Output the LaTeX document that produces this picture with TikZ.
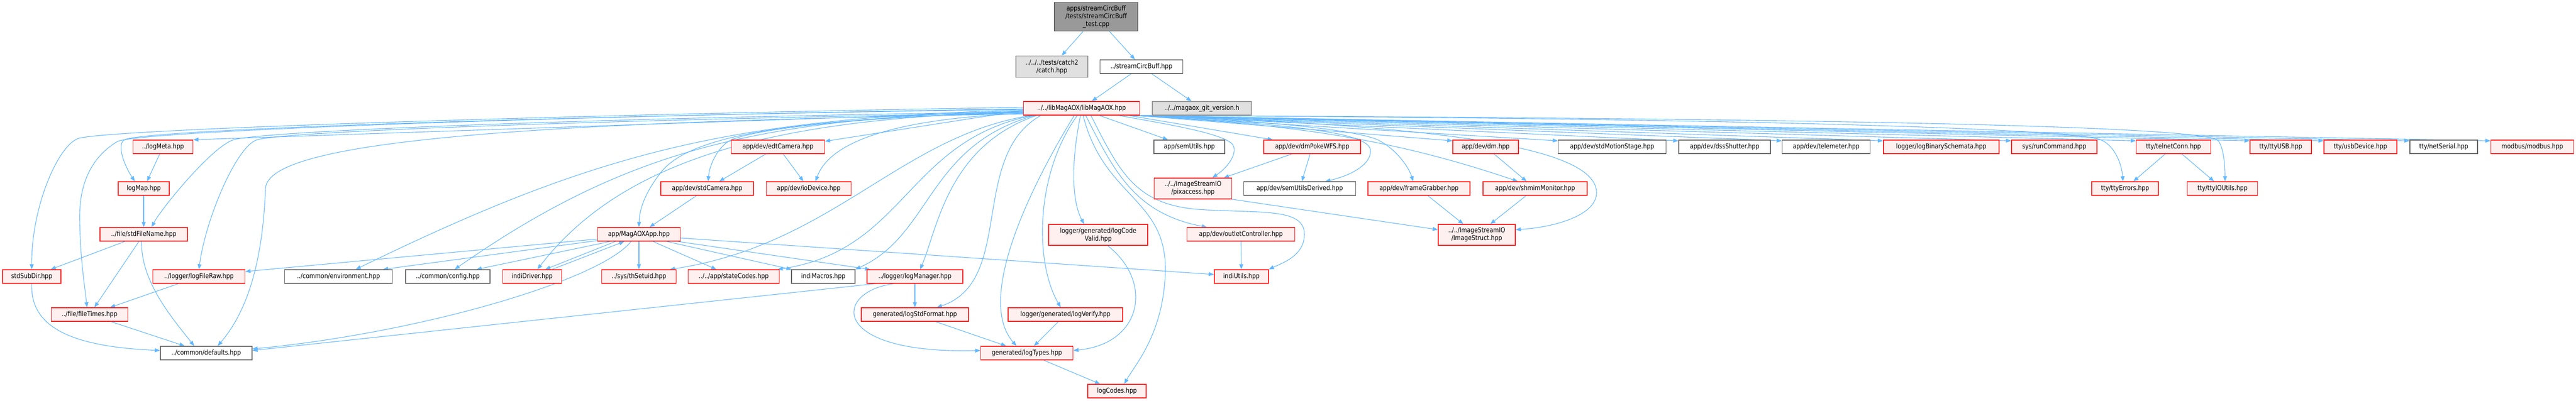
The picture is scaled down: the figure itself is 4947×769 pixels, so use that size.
\documentclass[tikz,border=0pt]{standalone}
\usepackage{fontspec}
\usepackage{xcolor}
\usepackage{tikz}
\usetikzlibrary{arrows.meta,positioning,backgrounds}
\newfontfamily\doxfont[FakeStretch=0.86]{DejaVu Sans}
\definecolor{EdgeBlue}{HTML}{63B8FF}
\definecolor{BoxRed}{HTML}{FF2020}
\definecolor{BoxPink}{HTML}{FFF0F0}
\definecolor{BoxGrey}{HTML}{666666}
\definecolor{BoxLight}{HTML}{E0E0E0}
\definecolor{BoxMid}{HTML}{999999}
\tikzset{
  inc box/.style={rectangle, draw, line width=1.3pt, align=center, inner sep=1pt, minimum height=26, font={\doxfont\fontsize{13}{15}\selectfont}},
  red file/.style={inc box, draw=BoxRed, fill=BoxPink},
  grey file/.style={inc box, draw=BoxGrey, fill=white},
  sys file/.style={inc box, draw=BoxMid, fill=BoxLight},
  src file/.style={inc box, draw=BoxGrey, fill=BoxMid},
  inc edge/.style={draw=EdgeBlue, line width=1.1pt, -{Triangle[length=10pt, width=7.5pt]}}
}

\begin{document}
\begin{tikzpicture}[x=1pt, y=1pt]
\useasboundingbox (0,0) rectangle (4947,-769);

% top of the graph
\node[src file, minimum width=160, minimum height=55] (top) at (2105,-32) {apps/streamCircBuff\\/tests/streamCircBuff\\\_test.cpp};
\node[sys file, minimum width=138, minimum height=41] (catch) at (2020,-128) {../../../tests/catch2\\/catch.hpp};
\node[grey file, minimum width=159] (scb) at (2192,-128) {../streamCircBuff.hpp};
\node[red file, minimum width=223] (lib) at (2077,-208) {../../libMagAOX/libMagAOX.hpp};
\node[sys file, minimum width=190] (git) at (2308,-208) {../../magaox\_git\_version.h};

% row 3
\node[red file, minimum width=115] (logMeta) at (313,-282) {../logMeta.hpp};
\node[red file, minimum width=179] (edtCamera) at (1494,-282) {app/dev/edtCamera.hpp};
\node[grey file, minimum width=136] (semUtils) at (2284,-282) {app/semUtils.hpp};
\node[red file, minimum width=186] (dmPokeWFS) at (2520,-282) {app/dev/dmPokeWFS.hpp};
\node[red file, minimum width=126] (dm) at (2853,-282) {app/dev/dm.hpp};
\node[grey file, minimum width=207] (stdMotionStage) at (3096,-282) {app/dev/stdMotionStage.hpp};
\node[grey file, minimum width=176] (dssShutter) at (3312,-282) {app/dev/dssShutter.hpp};
\node[grey file, minimum width=169] (telemeter) at (3507,-282) {app/dev/telemeter.hpp};
\node[red file, minimum width=222] (logBinSchema) at (3728,-282) {logger/logBinarySchemata.hpp};
\node[red file, minimum width=164] (runCommand) at (3945,-282) {sys/runCommand.hpp};
\node[red file, minimum width=143] (telnetConn) at (4174,-282) {tty/telnetConn.hpp};
\node[red file, minimum width=118] (ttyUSB) at (4380,-282) {tty/ttyUSB.hpp};
\node[red file, minimum width=140] (usbDevice) at (4533,-282) {tty/usbDevice.hpp};
\node[grey file, minimum width=130] (netSerial) at (4693,-282) {tty/netSerial.hpp};
\node[red file, minimum width=159] (modbus) at (4863,-282) {modbus/modbus.hpp};

% row 4
\node[red file, minimum width=98] (logMap) at (276,-362) {logMap.hpp};
\node[red file, minimum width=178] (stdCamera) at (1358,-362) {app/dev/stdCamera.hpp};
\node[red file, minimum width=163] (ioDevice) at (1553,-362) {app/dev/ioDevice.hpp};
\node[red file, minimum width=149, minimum height=40] (pixaccess) at (2291,-362) {../../ImageStreamIO\\/pixaccess.hpp};
\node[grey file, minimum width=215] (semUtilsDer) at (2496,-362) {app/dev/semUtilsDerived.hpp};
\node[red file, minimum width=196] (frameGrabber) at (2725,-362) {app/dev/frameGrabber.hpp};
\node[red file, minimum width=200] (shmimMonitor) at (2948,-362) {app/dev/shmimMonitor.hpp};
\node[red file, minimum width=128] (ttyErrors) at (4081,-362) {tty/ttyErrors.hpp};
\node[red file, minimum width=135] (ttyIOUtils) at (4268,-362) {tty/ttyIOUtils.hpp};

% row 5
\node[red file, minimum width=168] (stdFileName) at (276,-450) {../file/stdFileName.hpp};
\node[red file, minimum width=159] (MagAOXApp) at (1227,-450) {app/MagAOXApp.hpp};
\node[red file, minimum width=190, minimum height=40] (logCodeValid) at (2109,-451) {logger/generated/logCode\\Valid.hpp};
\node[red file, minimum width=207] (outletCtrl) at (2383,-450) {app/dev/outletController.hpp};
\node[red file, minimum width=148, minimum height=40] (ImageStruct) at (2836,-451) {../../ImageStreamIO\\/ImageStruct.hpp};

% row 6
\node[red file, minimum width=112] (stdSubDir) at (61,-531) {stdSubDir.hpp};
\node[red file, minimum width=177] (logFileRaw) at (382,-531) {../logger/logFileRaw.hpp};
\node[grey file, minimum width=207] (environment) at (650,-531) {../common/environment.hpp};
\node[grey file, minimum width=162] (config) at (860,-531) {../common/config.hpp};
\node[red file, minimum width=113] (indiDriver) at (1022,-531) {indiDriver.hpp};
\node[red file, minimum width=143] (thSetuid) at (1227,-531) {../sys/thSetuid.hpp};
\node[red file, minimum width=175] (stateCodes) at (1409,-531) {../../app/stateCodes.hpp};
\node[grey file, minimum width=122] (indiMacros) at (1581,-531) {indiMacros.hpp};
\node[red file, minimum width=184] (logManager) at (1757,-531) {../logger/logManager.hpp};
\node[red file, minimum width=104] (indiUtils) at (2384,-531) {indiUtils.hpp};

% rows 7 to 9
\node[red file, minimum width=147] (fileTimes) at (172,-604) {../file/fileTimes.hpp};
\node[red file, minimum width=206] (logStdFormat) at (1757,-604) {generated/logStdFormat.hpp};
\node[red file, minimum width=220] (logVerify) at (2046,-604) {logger/generated/logVerify.hpp};
\node[grey file, minimum width=176] (defaults) at (396,-678) {../common/defaults.hpp};
\node[red file, minimum width=177] (logTypes) at (1972,-678) {generated/logTypes.hpp};
\node[red file, minimum width=112] (logCodes) at (2145,-751) {logCodes.hpp};

\begin{scope}[on background layer]
% edges at the top
\draw[inc edge] (top) -- (catch);
\draw[inc edge] (top) -- (scb);
\draw[inc edge] (scb) -- (lib);
\draw[inc edge] (scb) -- (git);

% libMagAOX.hpp towards the left
\draw[inc edge] ([yshift=-6]lib.west) -- (logMeta.north east);
\draw[inc edge] ([yshift=-4]lib.west) -- ([yshift=-3]edtCamera.north east);
\draw[inc edge] ([yshift=-8]lib.west) .. controls (1700,-222) and (1440,-245) .. (1398,-272) .. controls (1375,-288) and (1362,-320) .. ([xshift=2]stdCamera.north);
\draw[inc edge] ([yshift=-10]lib.west) .. controls (1780,-225) and (1600,-255) .. ([xshift=13]ioDevice.north);
\draw[inc edge] ([yshift=-2]lib.west) .. controls (1100,-222) and (285,-248) .. (240,-268) .. controls (222,-276) and (240,-320) .. ([xshift=-17]logMap.north);
\draw[inc edge] ([yshift=2]lib.west) .. controls (1100,-220) and (200,-248) .. (150,-266) .. controls (110,-281) and (60,-400) .. (stdSubDir.north);
\draw[inc edge] ([yshift=-1]lib.west) .. controls (1100,-222) and (260,-251) .. (225,-272) .. controls (185,-296) and (152,-340) .. (153,-420) .. controls (154,-500) and (163,-550) .. ([xshift=-5]fileTimes.north);
\draw[inc edge] ([yshift=-7]lib.west) .. controls (1200,-225) and (520,-250) .. (450,-268) .. controls (410,-278) and (310,-400) .. ([xshift=15]stdFileName.north);
\draw[inc edge] ([yshift=-9]lib.west) .. controls (1250,-228) and (570,-250) .. (495,-268) .. controls (455,-278) and (395,-420) .. (logFileRaw.north);
\draw[inc edge] ([yshift=-11]lib.west) .. controls (900,-235) and (520,-280) .. (510,-360) .. controls (506,-460) and (490,-580) .. ([xshift=22]defaults.north);
\draw[inc edge] ([yshift=-3]lib.west) .. controls (1400,-228) and (1150,-290) .. ([xshift=33]environment.north);
\draw[inc edge] ([yshift=-5]lib.west) .. controls (1450,-226) and (1200,-290) .. ([xshift=13]config.north);
\draw[inc edge] ([yshift=-7]lib.west) .. controls (1500,-226) and (1200,-300) .. ([xshift=10]indiDriver.north);
\draw[inc edge] ([yshift=-9]lib.west) .. controls (1550,-226) and (1330,-255) .. (1270,-330) .. controls (1240,-368) and (1228,-400) .. (MagAOXApp.north);

% libMagAOX.hpp downwards
\draw[inc edge] ([xshift=16]lib.south west) .. controls (1730,-260) and (1600,-470) .. ([xshift=59]thSetuid.north);
\draw[inc edge] ([xshift=19]lib.south west) .. controls (1740,-270) and (1740,-480) .. ([xshift=-4]stateCodes.north east);
\draw[inc edge] ([xshift=22]lib.south west) .. controls (1780,-280) and (1790,-450) .. (indiMacros.north east);
\draw[inc edge] ([xshift=26]lib.south west) .. controls (1820,-280) and (1800,-440) .. ([xshift=10]logManager.north);
\draw[inc edge] ([xshift=34]lib.south west) .. controls (1860,-300) and (1950,-540) .. ([xshift=42]logStdFormat.north);
\draw[inc edge] ([xshift=-14]lib.south) .. controls (1990,-340) and (1870,-570) .. ([xshift=-20]logTypes.north);
\draw[inc edge] ([xshift=-8]lib.south) .. controls (1990,-330) and (1985,-500) .. ([xshift=-9]logVerify.north);
\draw[inc edge] ([xshift=-2]lib.south) .. controls (2055,-320) and (2060,-390) .. ([xshift=-27]logCodeValid.north);
\draw[inc edge] ([xshift=3]lib.south) .. controls (2120,-380) and (2240,-380) .. (2238,-520) .. controls (2235,-640) and (2180,-700) .. ([xshift=14]logCodes.north);
\draw[inc edge] ([xshift=8]lib.south) .. controls (2140,-330) and (2180,-410) .. ([xshift=-65]outletCtrl.north);
\draw[inc edge] ([xshift=18]lib.south) .. controls (2150,-330) and (2180,-392) .. (2300,-402) .. controls (2420,-410) and (2505,-398) .. (2505,-450) .. controls (2505,-492) and (2460,-506) .. (indiUtils.north east);
\draw[inc edge] ([xshift=-78]lib.south east) -- ([xshift=-41]semUtils.north);
\draw[inc edge] ([xshift=-41]lib.south east) .. controls (2250,-240) and (2340,-255) .. (2365,-275) .. controls (2380,-290) and (2360,-320) .. ([xshift=37]pixaccess.north);
\draw[inc edge] ([xshift=-22]lib.south east) -- ([xshift=18]dmPokeWFS.north west);

% libMagAOX.hpp towards the right, under the git version box
\draw[inc edge] ([xshift=-16]lib.south east) .. controls (2500,-240) and (2632,-255) .. (2632,-290) .. controls (2632,-318) and (2590,-338) .. ([xshift=49]semUtilsDer.north);
\draw[inc edge] ([xshift=-14]lib.south east) .. controls (2450,-232) and (2600,-250) .. (2645,-268) .. controls (2680,-285) and (2705,-320) .. ([xshift=-11]frameGrabber.north);
\draw[inc edge] ([xshift=-12]lib.south east) .. controls (2450,-238) and (2650,-258) .. ([xshift=-33]shmimMonitor.north);
\draw[inc edge] ([xshift=-10]lib.south east) .. controls (2750,-240) and (3066,-280) .. (3066,-370) .. controls (3066,-412) and (2990,-436) .. ([yshift=10]ImageStruct.east);
\draw[inc edge] ([xshift=-8]lib.south east) -- ([yshift=-2]dm.north west);
\draw[inc edge] ([xshift=-7]lib.south east) -- ([yshift=-2]stdMotionStage.north west);
\draw[inc edge] ([xshift=-6]lib.south east) -- ([yshift=-2]dssShutter.north west);
\draw[inc edge] ([xshift=-5]lib.south east) -- ([yshift=-2]telemeter.north west);
\draw[inc edge] ([xshift=-4]lib.south east) -- ([yshift=-2]logBinSchema.north west);
\draw[inc edge] ([xshift=-3]lib.south east) -- ([yshift=-2]runCommand.north west);
\draw[inc edge] ([xshift=-2]lib.south east) -- ([yshift=-2]telnetConn.north west);
\draw[inc edge] ([xshift=-2]lib.south east) .. controls (3500,-228) and (3980,-250) .. (4033,-268) .. controls (4058,-277) and (4074,-310) .. ([xshift=-4]ttyErrors.north);
\draw[inc edge] ([xshift=-1]lib.south east) .. controls (3700,-228) and (4200,-245) .. (4257,-268) .. controls (4268,-274) and (4273,-310) .. ([xshift=5]ttyIOUtils.north);
\draw[inc edge] ([xshift=-1]lib.south east) -- ([yshift=-2]ttyUSB.north west);
\draw[inc edge] (lib.south east) -- ([yshift=-2]usbDevice.north west);
\draw[inc edge] (lib.south east) -- ([yshift=-2]netSerial.north west);
\draw[inc edge] (lib.south east) -- ([yshift=-2]modbus.north west);

% left part
\draw[inc edge] (logMeta) -- (logMap);
\draw[inc edge] (logMap) -- (stdFileName);
\draw[inc edge] (stdFileName) -- (stdSubDir);
\draw[inc edge] (stdFileName) -- (fileTimes);
\draw[inc edge] ([xshift=-4]stdFileName.south) .. controls (270,-540) and (330,-610) .. ([xshift=-23]defaults.north);
\draw[inc edge] (stdSubDir.south) .. controls (58,-620) and (120,-665) .. ([yshift=5]defaults.west);
\draw[inc edge] (logFileRaw) -- (fileTimes);
\draw[inc edge] (fileTimes) -- (defaults);

% cameras and MagAOXApp.hpp
\draw[inc edge] (edtCamera) -- (stdCamera);
\draw[inc edge] (edtCamera) -- (ioDevice);
\draw[inc edge] (stdCamera) -- (MagAOXApp);
\draw[inc edge] ([yshift=-9]MagAOXApp.west) -- ([yshift=-4]logFileRaw.north east);
\draw[inc edge] ([yshift=-12]MagAOXApp.west) -- ([xshift=-19]environment.north east);
\draw[inc edge] ([xshift=-55]MagAOXApp.south) -- ([xshift=55]config.north);
\draw[inc edge] ([xshift=-45]MagAOXApp.south) -- ([xshift=25]indiDriver.north);
\draw[inc edge] ([xshift=38]indiDriver.north) -- ([xshift=-28]MagAOXApp.south);
\draw[inc edge] ([xshift=-15]MagAOXApp.south) .. controls (1150,-540) and (800,-640) .. ([yshift=8]defaults.east);
\draw[inc edge] (MagAOXApp) -- (thSetuid);
\draw[inc edge] ([xshift=27]MagAOXApp.south) -- ([xshift=-33]stateCodes.north);
\draw[inc edge] ([xshift=53]MagAOXApp.south) -- ([xshift=1]indiMacros.north west);
\draw[inc edge] ([xshift=74]MagAOXApp.south) -- ([xshift=7]logManager.north west);
\draw[inc edge] ([yshift=-7]MagAOXApp.east) -- ([yshift=4]indiUtils.west);

% logger part
\draw[inc edge] (logManager) -- (logStdFormat);
\draw[inc edge] ([xshift=-40]logManager.south) .. controls (1600,-560) and (1590,-680) .. ([yshift=5]logTypes.west);
\draw[inc edge] ([xshift=-75]logManager.south) -- ([yshift=5]defaults.east);
\draw[inc edge] (logStdFormat) -- (logTypes);
\draw[inc edge] (logVerify) -- (logTypes);
\draw[inc edge] ([xshift=18]logCodeValid.south) .. controls (2215,-540) and (2195,-660) .. ([yshift=5]logTypes.east);
\draw[inc edge] (logTypes) -- (logCodes);
\draw[inc edge] (outletCtrl) -- (indiUtils);

% image stream part
\draw[inc edge] (pixaccess.south east) -- ([yshift=10]ImageStruct.west);
\draw[inc edge] (dmPokeWFS) -- (pixaccess);
\draw[inc edge] (dmPokeWFS) -- (semUtilsDer);
\draw[inc edge] (dm) -- (shmimMonitor);
\draw[inc edge] (frameGrabber) -- (ImageStruct);
\draw[inc edge] (shmimMonitor) -- (ImageStruct);

% tty part
\draw[inc edge] (telnetConn) -- (ttyErrors);
\draw[inc edge] (telnetConn) -- (ttyIOUtils);
\end{scope}
\end{tikzpicture}
\end{document}
